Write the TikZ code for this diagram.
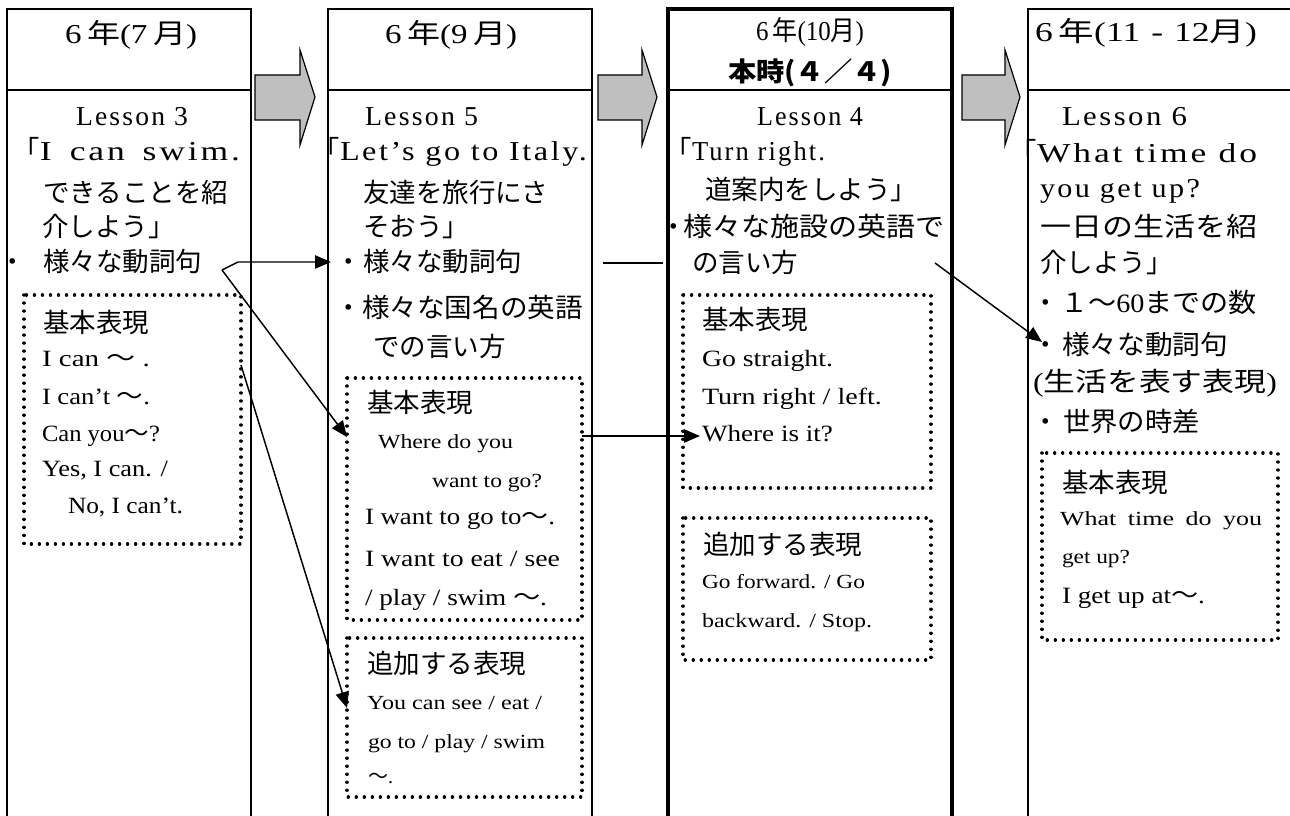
\documentclass[tikz,border=0pt]{standalone}
\usepackage{fontspec}
\usepackage{graphicx}
\setmainfont{Liberation Serif}
\newfontfamily\jp{Noto Sans CJK JP}
\usetikzlibrary{arrows.meta}
\definecolor{arrgray}{RGB}{191,191,191}
\newsavebox\Tbox
\newlength\Twd
\newcommand\Tfit[2]{%
  \sbox\Tbox{#2}%
  \setlength\Twd{\wd\Tbox}%
  \pgfmathsetmacro\Tr{min(1.3,max(0.8,(#1*0.75)/\Twd))}%
  \pgfmathsetlengthmacro\Tin{(#1*0.75)/\Tr}%
  \scalebox{\Tr}[1]{\makebox[\Tin][s]{#2}}%
}
\begin{document}
\begin{tikzpicture}[x=0.75pt,y=-0.75pt,
  every node/.style={inner sep=0pt, outer sep=0pt, anchor=base west},
  jt/.style={font=\fontsize{19.9pt}{24pt}\selectfont\jp},
  ht/.style={font=\fontsize{20.5pt}{24pt}\selectfont},
  et/.style={font=\fontsize{20.5pt}{24pt}\selectfont\addfontfeatures{LetterSpace=8}},
  bt/.style={font=\fontsize{17.5pt}{21pt}\selectfont},
  st/.style={font=\fontsize{15pt}{18pt}\selectfont},
  colline/.style={line width=1.2pt},
  thickcol/.style={line width=3.4pt},
  dotbox/.style={line width=2.6pt, dash pattern=on 0.01pt off 6pt, line cap=round},
  garrow/.style={fill=arrgray, draw=black, line width=0.9pt, line join=miter},
  conn/.style={line width=1.1pt, -{Triangle[length=12pt,width=10pt]}},
  plainline/.style={line width=1.1pt}
]
\useasboundingbox (0,0) rectangle (1290,816);
\clip (0,0) rectangle (1290,816);
\fill[white] (0,0) rectangle (1290,816);

% columns
\draw[colline] (7,9) rectangle (251,840);
\draw[colline] (7,90) -- (251,90);
\draw[colline] (328,9) rectangle (592,840);
\draw[colline] (328,90) -- (592,90);
\draw[colline] (668,90) -- (952,90);
\draw[thickcol] (668,9) rectangle (952,840);
\draw[colline] (1028,9) rectangle (1310,840);
\draw[colline] (1028,90) -- (1310,90);

% gray block arrows
\foreach \a/\b/\c in {255/300/315, 598/642/657, 962/1005/1020}
  \draw[garrow] (\a,75) -- (\b,75) -- (\b,50) -- (\c,97) -- (\b,145) -- (\b,120) -- (\a,120) -- cycle;

% dotted boxes
\draw[dotbox] (24,295) rectangle (241,544);
\draw[dotbox] (347,378) rectangle (582,620);
\draw[dotbox] (347,638) rectangle (582,797);
\draw[dotbox] (683,295) rectangle (931,488);
\draw[dotbox] (683,518) rectangle (931,660);
\draw[dotbox] (1042,453) rectangle (1278,640);

% column 1
\node[ht] (h1) at (65,44) {\Tfit{132}{6\,{\jp 年}(7\,{\jp 月})}};
\node[et] (l1a) at (76,126) {\Tfit{112}{Lesson 3}};
\node[et] (l1b) at (40,161) {\makebox[0pt][r]{\jp 「}\Tfit{200}{I can swim.}};
\node[jt] (l1c) at (43,203) {できることを紹};
\node[jt] (l1d) at (42,237) {介しよう」};
\node[jt] (d1a) at (-1,272) {・};
\node[jt] (l1e) at (43,272) {様々な動詞句};
\node[jt] (k1) at (43,333) {基本表現};
\node[bt] (k1a) at (42,367) {\Tfit{108}{I can {\jp ～} .}};
\node[bt] (k1b) at (42,405) {\Tfit{108}{I can’t {\jp ～}.}};
\node[bt] (k1c) at (42,442) {\Tfit{118}{Can you{\jp ～}?}};
\node[bt] (k1d) at (42,477) {\Tfit{126}{Yes, I can. /}};
\node[bt] (k1e) at (68,514) {\Tfit{115}{No, I can’t.}};

% column 2
\node[ht] (h2) at (385,44) {\Tfit{132}{6\,{\jp 年}(9\,{\jp 月})}};
\node[et] (l2a) at (365,126) {\Tfit{113}{Lesson 5}};
\node[et] (l2b) at (340,161) {\makebox[0pt][r]{\jp 「}\Tfit{247}{Let’s go to Italy.}};
\node[jt] (l2c) at (363,203) {友達を旅行にさ};
\node[jt] (l2d) at (363,237) {そおう」};
\node[jt] (d2a) at (335,272) {・};
\node[jt] (l2e) at (363,272) {様々な動詞句};
\node[jt] (d2b) at (335,318) {・};
\node[jt] (l2f) at (362,318) {\Tfit{221}{様々な国名の英語}};
\node[jt] (l2g) at (373,357) {での言い方};
\node[jt] (k2) at (367,413) {基本表現};
\node[st] (k2a) at (378,449) {\Tfit{135}{Where do you}};
\node[st] (k2b) at (432,488) {\Tfit{110}{want to go?}};
\node[bt] (k2c) at (365,525) {\Tfit{190}{I want to go to{\jp ～}.}};
\node[bt] (k2d) at (365,567) {\Tfit{195}{I want to eat / see}};
\node[bt] (k2e) at (365,605) {\Tfit{182}{/ play / swim {\jp ～}.}};
\node[jt] (a2) at (367,673) {追加する表現};
\node[st] (a2a) at (367,709) {\Tfit{175}{You can see / eat /}};
\node[st] (a2b) at (368,748) {\Tfit{177}{go to / play / swim}};
\node[st] (a2c) at (368,783) {{\jp ～}.};

% column 3
\node[ht] (h3) at (756,41) {\Tfit{108}{6\,{\jp 年}(10{\jp 月})}};
\node[jt] (h3b) at (728,82) {\Tfit{164}{\bfseries 本時(４／４)}};
\node[et] (l3a) at (757,126) {\Tfit{106}{Lesson 4}};
\node[et] (l3b) at (692,161) {\makebox[0pt][r]{\jp 「}\Tfit{133}{Turn right.}};
\node[jt] (l3c) at (705,200) {道案内をしよう」};
\node[jt] (d3a) at (660,237) {・};
\node[jt] (l3d) at (683,237) {\Tfit{262}{様々な施設の英語で}};
\node[jt] (l3e) at (692,273) {の言い方};
\node[jt] (k3) at (702,330) {基本表現};
\node[bt] (k3a) at (702,367) {\Tfit{131}{Go straight.}};
\node[bt] (k3b) at (702,405) {\Tfit{180}{Turn right / left.}};
\node[bt] (k3c) at (702,442) {\Tfit{131}{Where is it?}};
\node[jt] (a3) at (703,555) {追加する表現};
\node[st] (a3a) at (702,589) {\Tfit{163}{Go forward. / Go}};
\node[st] (a3b) at (702,628) {\Tfit{170}{backward. / Stop.}};

% column 4
\node[ht] (h4) at (1035,42) {\Tfit{222}{6\,{\jp 年}(11 - 12{\jp 月})}};
\node[et] (l4a) at (1062,126) {\Tfit{125}{Lesson 6}};
\node[et] (l4b) at (1037,163) {\makebox[0pt][r]{\jp 「}\Tfit{220}{What time do}};
\node[et] (l4c) at (1040,198) {\Tfit{160}{you get up?}};
\node[jt] (l4d) at (1040,237) {\Tfit{217}{一日の生活を紹}};
\node[jt] (l4e) at (1040,273) {介しよう」};
\node[jt] (d4a) at (1032,313) {・};
\node[jt] (l4f) at (1060,313) {\Tfit{197}{１～{\rmfamily 60}までの数}};
\node[jt] (d4b) at (1032,355) {・};
\node[jt] (l4g) at (1062,355) {\Tfit{166}{様々な動詞句}};
\node[jt] (l4h) at (1033,392) {\Tfit{244}{{\rmfamily(}生活を表す表現{\rmfamily)}}};
\node[jt] (d4c) at (1032,432) {・};
\node[jt] (l4i) at (1063,432) {\Tfit{137}{世界の時差}};
\node[jt] (k4) at (1062,493) {基本表現};
\node[st] (k4a) at (1060,526) {\Tfit{202}{What time do you}};
\node[st] (k4b) at (1062,564) {\Tfit{68}{get up?}};
\node[bt] (k4c) at (1062,604) {\Tfit{143}{I get up at{\jp ～}.}};

% connectors
\coordinate (p1) at (222,270);
\coordinate (p1b) at (238,262);
\coordinate (q1) at (331,262);
\coordinate (q2) at (347,437);
\coordinate (p3) at (241,365);
\coordinate (q3) at (347,708);
\coordinate (p4) at (582,436);
\coordinate (q4) at (700,436);
\coordinate (p5) at (603,263);
\coordinate (q5) at (663,263);
\coordinate (p6) at (935,263);
\coordinate (q6) at (1042,342);
\draw[conn] (p1) -- (p1b) -- (q1);
\draw[conn] (p1) -- (q2);
\draw[conn] (p3) -- (q3);
\draw[conn] (p4) -- (q4);
\draw[plainline] (p5) -- (q5);
\draw[conn] (p6) -- (q6);
\end{tikzpicture}
\end{document}
